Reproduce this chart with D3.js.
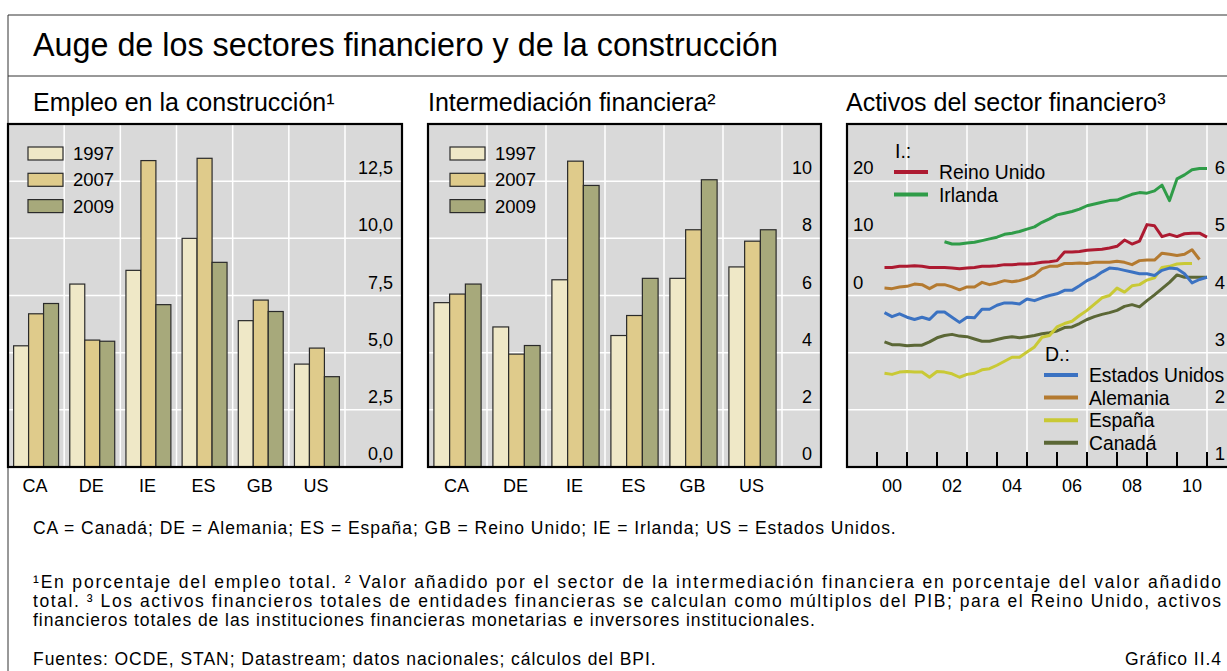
<!DOCTYPE html>
<html>
<head>
<meta charset="utf-8">
<script src="https://cdn.jsdelivr.net/npm/d3@7"></script>
<style>
html, body { margin: 0; padding: 0; background: #fff; }
svg { display: block; font-family: "Liberation Sans", Arial, sans-serif; }
</style>
</head>
<body>
<svg id="chart" width="1227" height="671"></svg>
<script>
// ---- data ----
const countries = ["CA", "DE", "IE", "ES", "GB", "US"];
const years = ["1997", "2007", "2009"];

// empleo en la construcción, % del empleo total
const empleo1997 = [5.3, 8.0, 8.6, 10.0, 6.4, 4.5];
const empleo2007 = [6.7, 5.55, 13.4, 13.5, 7.3, 5.2];
const empleo2009 = [7.15, 5.5, 7.1, 8.95, 6.8, 3.95];

// intermediación financiera, % del valor añadido
const interm1997 = [5.75, 4.9, 6.55, 4.6, 6.6, 7.0];
const interm2007 = [6.05, 3.95, 10.7, 5.3, 8.3, 7.9];
const interm2009 = [6.4, 4.25, 9.85, 6.6, 10.05, 8.3];

const empleoTicks = [0, 2.5, 5, 7.5, 10, 12.5];
const intermTicks = [0, 2, 4, 6, 8, 10];

// activos del sector financiero, trimestral 2000 T1 - 2010 T4 (múltiplos del PIB)
const firstQuarter = 2000.25;
const reinoUnido = [4.9, 4.9, 5.1, 5.1, 5.2, 5.1, 4.9, 4.9, 4.9, 4.8, 4.7, 4.8, 4.9, 5.1, 5.1, 5.2,
  5.4, 5.4, 5.5, 5.5, 5.6, 5.8, 5.9, 6.1, 7.6, 7.6, 7.7, 7.9, 8.0, 8.1, 8.3, 8.6,
  9.7, 9.0, 9.5, 12.4, 12.2, 10.3, 10.7, 10.3, 10.8, 10.9, 10.9, 10.2];
const irlanda = [null, null, null, null, null, null, null, null,
  9.4, 9.0, 9.0, 9.2, 9.3, 9.6, 9.9, 10.2, 10.7, 10.9, 11.2, 11.6, 12.0, 12.8, 13.4, 14.1,
  14.4, 14.7, 15.1, 15.7, 16.0, 16.3, 16.6, 16.7, 17.2, 17.7, 18.0, 17.9, 18.3, 19.3, 16.6, 20.4,
  21.1, 22.0, 22.2, 22.2];
const estadosUnidos = [3.70, 3.63, 3.68, 3.62, 3.58, 3.62, 3.58, 3.71, 3.71, 3.62, 3.53, 3.62, 3.61, 3.76, 3.76, 3.83,
  3.87, 3.87, 3.85, 3.94, 3.91, 3.96, 4.00, 4.03, 4.09, 4.09, 4.17, 4.26, 4.32, 4.41, 4.48, 4.47,
  4.44, 4.41, 4.38, 4.38, 4.35, 4.44, 4.48, 4.47, 4.38, 4.22, 4.28, 4.32];
const alemania = [4.13, 4.12, 4.15, 4.16, 4.20, 4.19, 4.12, 4.19, 4.19, 4.15, 4.10, 4.15, 4.15, 4.23, 4.19, 4.22,
  4.26, 4.24, 4.26, 4.30, 4.36, 4.47, 4.51, 4.51, 4.56, 4.56, 4.57, 4.56, 4.58, 4.58, 4.58, 4.60,
  4.58, 4.54, 4.61, 4.62, 4.62, 4.74, 4.72, 4.70, 4.72, 4.80, 4.63, null];
const espana = [2.64, 2.62, 2.66, 2.67, 2.66, 2.66, 2.57, 2.67, 2.66, 2.63, 2.57, 2.62, 2.64, 2.70, 2.72, 2.78,
  2.85, 2.92, 2.92, 3.01, 3.10, 3.27, 3.30, 3.45, 3.51, 3.55, 3.65, 3.74, 3.85, 3.96, 4.00, 4.13,
  4.06, 4.17, 4.19, 4.27, 4.31, 4.49, 4.51, 4.55, 4.56, 4.56, null, null];
const canada = [3.19, 3.14, 3.14, 3.12, 3.13, 3.13, 3.19, 3.26, 3.30, 3.32, 3.29, 3.28, 3.24, 3.20, 3.20, 3.23,
  3.26, 3.28, 3.26, 3.28, 3.30, 3.33, 3.35, 3.38, 3.44, 3.45, 3.51, 3.58, 3.63, 3.67, 3.70, 3.74,
  3.81, 3.84, 3.80, 3.91, 4.01, 4.12, 4.23, 4.36, 4.32, 4.32, 4.32, 4.32];

const leftTicks = [-20, -10, 0, 10, 20];
const leftLabels = [0, 10, 20];
const rightTicks = [1, 2, 3, 4, 5, 6];
const yearLabels = [2000, 2002, 2004, 2006, 2008, 2010];

// ---- setup ----
const svg = d3.select("#chart");
const W = 1227, H = 671;
const plotTop = 124, plotBottom = 467;
const bg = "#d9d9d9";
const barColors = { "1997": "#efe8c7", "2007": "#dfcb8b", "2009": "#a7a97b" };
const esLocale = d3.formatLocale({ decimal: ",", thousands: ".", grouping: [3], currency: ["", " €"] });

svg.append("rect").attr("width", W).attr("height", H).attr("fill", "#fff");

// outer frame
svg.append("path")
    .attr("d", `M8,${H} V15 H${W} M8,76 H${W}`)
    .attr("fill", "none")
    .attr("stroke", "#333")
    .attr("stroke-width", 1);

svg.append("text")
    .attr("x", 33).attr("y", 56)
    .attr("font-size", 32.3)
    .text("Auge de los sectores financiero y de la construcción");

const subtitles = [
  { x: 33, t: "Empleo en la construcción¹" },
  { x: 428, t: "Intermediación financiera²" },
  { x: 846, t: "Activos del sector financiero³" }
];
svg.selectAll(".subtitle")
    .data(subtitles)
    .join("text")
    .attr("class", "subtitle")
    .attr("x", d => d.x).attr("y", 111)
    .attr("font-size", 25)
    .text(d => d.t);

// ---- bar panels ----
function barPanel(o) {
  const g = svg.append("g");
  const x0 = d3.scaleBand().domain(countries).range([o.left, o.bandEnd]);
  const x1 = d3.scaleBand().domain(years)
      .range([x0.bandwidth() * 0.1, x0.bandwidth() * 0.9]);
  const y = d3.scaleLinear().domain(o.domain).range([plotBottom, plotTop]);

  g.append("rect")
      .attr("x", o.left).attr("y", plotTop)
      .attr("width", o.right - o.left).attr("height", plotBottom - plotTop)
      .attr("fill", bg);

  g.selectAll(".hgrid")
      .data(o.ticks.filter(t => t > o.domain[0]))
      .join("line")
      .attr("x1", o.left).attr("x2", o.right)
      .attr("y1", d => y(d)).attr("y2", d => y(d))
      .attr("stroke", "#fff").attr("stroke-width", 1.5);

  g.selectAll(".vgrid")
      .data(countries)
      .join("line")
      .attr("x1", d => x0(d) + x0.bandwidth()).attr("x2", d => x0(d) + x0.bandwidth())
      .attr("y1", plotTop).attr("y2", plotBottom)
      .attr("stroke", "#fff").attr("stroke-width", 1.5);

  const groups = g.selectAll(".grp")
      .data(countries.map((c, i) => ({ c, vals: years.map(yr => ({ yr, v: o.series[yr][i] })) })))
      .join("g")
      .attr("transform", d => `translate(${x0(d.c)},0)`);

  groups.selectAll("rect")
      .data(d => d.vals)
      .join("rect")
      .attr("x", d => x1(d.yr))
      .attr("y", d => y(d.v))
      .attr("width", x1.bandwidth())
      .attr("height", d => y(0) - y(d.v))
      .attr("fill", d => barColors[d.yr])
      .attr("stroke", "#2a2a2a")
      .attr("stroke-width", 1.2);

  // tick labels on the right, inside the frame
  g.selectAll(".tick")
      .data(o.ticks)
      .join("text")
      .attr("x", o.right - 9)
      .attr("y", d => y(d) - 7)
      .attr("text-anchor", "end")
      .attr("font-size", 18)
      .text(o.format);

  // legend
  const leg = g.selectAll(".leg")
      .data(years)
      .join("g")
      .attr("transform", (d, i) => `translate(${o.legendX},${147 + i * 26.3})`);
  leg.append("rect")
      .attr("width", 35).attr("height", 13)
      .attr("fill", d => barColors[d])
      .attr("stroke", "#2a2a2a").attr("stroke-width", 1.2);
  leg.append("text")
      .attr("x", 45).attr("y", 13)
      .attr("font-size", 18.5)
      .text(d => d);

  // frame
  g.append("rect")
      .attr("x", o.left).attr("y", plotTop)
      .attr("width", o.right - o.left).attr("height", plotBottom - plotTop)
      .attr("fill", "none")
      .attr("stroke", "#000").attr("stroke-width", 2.2);

  // category labels
  g.selectAll(".cat")
      .data(countries)
      .join("text")
      .attr("x", d => x0(d) + x0.bandwidth() / 2 - 1)
      .attr("y", 492)
      .attr("text-anchor", "middle")
      .attr("font-size", 18)
      .text(d => d);
}

barPanel({
  left: 8, bandEnd: 345, right: 402,
  domain: [0, 15], ticks: empleoTicks,
  format: esLocale.format(".1f"),
  series: { "1997": empleo1997, "2007": empleo2007, "2009": empleo2009 },
  legendX: 28
});

barPanel({
  left: 428, bandEnd: 782, right: 821,
  domain: [0, 12], ticks: intermTicks,
  format: d3.format("d"),
  series: { "1997": interm1997, "2007": interm2007, "2009": interm2009 },
  legendX: 450
});

// ---- line panel ----
const p3 = svg.append("g");
const p3Left = 847, p3Right = 1237;
const xT = d3.scaleLinear().domain([1999, 2012]).range([p3Left, p3Right]);
const yL = d3.scaleLinear().domain([-30, 30]).range([plotBottom, plotTop]);
const yR = d3.scaleLinear().domain([1, 7]).range([plotBottom, plotTop]);

p3.append("rect")
    .attr("x", p3Left).attr("y", plotTop)
    .attr("width", p3Right - p3Left).attr("height", plotBottom - plotTop)
    .attr("fill", bg);

p3.selectAll(".hgrid")
    .data(leftTicks)
    .join("line")
    .attr("x1", p3Left).attr("x2", p3Right)
    .attr("y1", d => yL(d)).attr("y2", d => yL(d))
    .attr("stroke", "#fff").attr("stroke-width", 1.5);

p3.selectAll(".vgrid")
    .data(d3.range(2001, 2012, 2))
    .join("line")
    .attr("x1", d => xT(d)).attr("x2", d => xT(d))
    .attr("y1", plotTop).attr("y2", plotBottom)
    .attr("stroke", "#fff").attr("stroke-width", 1.5);

p3.selectAll(".xtick")
    .data(d3.range(2000, 2012))
    .join("line")
    .attr("x1", d => xT(d)).attr("x2", d => xT(d))
    .attr("y1", plotBottom).attr("y2", plotBottom - 15)
    .attr("stroke", "#000").attr("stroke-width", 2);

const lineSeries = [
  { name: "Reino Unido", vals: reinoUnido, axis: yL, color: "#ad1a31" },
  { name: "Irlanda", vals: irlanda, axis: yL, color: "#2f9c48" },
  { name: "Estados Unidos", vals: estadosUnidos, axis: yR, color: "#3b72c2" },
  { name: "Alemania", vals: alemania, axis: yR, color: "#b47a30" },
  { name: "España", vals: espana, axis: yR, color: "#c9c935" },
  { name: "Canadá", vals: canada, axis: yR, color: "#5b6736" }
];

const line = d3.line()
    .defined(d => d.v != null)
    .x(d => xT(d.t));

// draw back to front so the order matches the reference
[...lineSeries].reverse().forEach(s => {
  p3.append("path")
      .datum(s.vals.map((v, i) => ({ t: firstQuarter + i / 4, v })))
      .attr("fill", "none")
      .attr("stroke", s.color)
      .attr("stroke-width", 3)
      .attr("stroke-linejoin", "round")
      .attr("d", line.y(d => s.axis(d.v)));
});

p3.selectAll(".ylab")
    .data(leftLabels)
    .join("text")
    .attr("x", p3Left + 6)
    .attr("y", d => yL(d) - 7)
    .attr("font-size", 18.5)
    .text(d => d);

// right-hand scale: the reference is cropped here, keep the digits just inside the picture
p3.selectAll(".yrlab")
    .data(rightTicks)
    .join("text")
    .attr("x", W - 2)
    .attr("y", d => yR(d) - 7)
    .attr("text-anchor", "end")
    .attr("font-size", 18.5)
    .text(d => d);

// legends
function lineLegend(title, items, x, y0) {
  const g = p3.append("g");
  g.append("text").attr("x", x + 1).attr("y", y0 - 14).attr("font-size", 19.5).text(title);
  const row = g.selectAll(".row")
      .data(items)
      .join("g")
      .attr("transform", (d, i) => `translate(${x},${y0 + i * 22.6})`);
  row.append("line")
      .attr("x1", 0).attr("x2", 34)
      .attr("stroke", d => d.color).attr("stroke-width", 4);
  row.append("text")
      .attr("x", 45).attr("y", 7)
      .attr("font-size", 19.3)
      .text(d => d.name);
}
lineLegend("I.:", lineSeries.slice(0, 2), 894, 172);
lineLegend("D.:", lineSeries.slice(2), 1044, 375);

p3.append("rect")
    .attr("x", p3Left).attr("y", plotTop)
    .attr("width", p3Right - p3Left).attr("height", plotBottom - plotTop)
    .attr("fill", "none")
    .attr("stroke", "#000").attr("stroke-width", 2.2);

p3.selectAll(".xlab")
    .data(yearLabels)
    .join("text")
    .attr("x", d => xT(d + 0.5))
    .attr("y", 492)
    .attr("text-anchor", "middle")
    .attr("font-size", 18)
    .text(d => String(d).slice(2));

// ---- notes ----
const notes = svg.append("g")
    .attr("font-size", 17.5)
    .attr("letter-spacing", 0.95)
    .style("white-space", "pre");
notes.append("text").attr("x", 33).attr("y", 534)
    .text("CA = Canadá; DE = Alemania; ES = España; GB = Reino Unido; IE = Irlanda; US = Estados Unidos.");
notes.append("text").attr("x", 33).attr("y", 588)
    .attr("textLength", 1189).attr("lengthAdjust", "spacing")
    .text("¹En porcentaje del empleo total.   ² Valor añadido por el sector de la intermediación financiera en porcentaje del valor añadido");
notes.append("text").attr("x", 33).attr("y", 607)
    .attr("textLength", 1189).attr("lengthAdjust", "spacing")
    .text("total.   ³ Los activos financieros totales de entidades financieras se calculan como múltiplos del PIB; para el Reino Unido, activos");
notes.append("text").attr("x", 33).attr("y", 626)
    .text("financieros totales de las instituciones financieras monetarias e inversores institucionales.");
notes.append("text").attr("x", 33).attr("y", 665)
    .text("Fuentes: OCDE, STAN; Datastream; datos nacionales; cálculos del BPI.");
notes.append("text").attr("x", 1222).attr("y", 665).attr("text-anchor", "end")
    .text("Gráfico II.4");
</script>
</body>
</html>
